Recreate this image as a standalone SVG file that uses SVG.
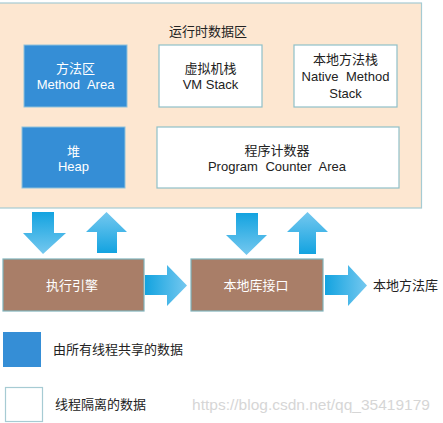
<svg xmlns="http://www.w3.org/2000/svg" width="443" height="423" viewBox="0 0 443 423">
<defs>
<style>
text{font-family:"Liberation Sans","Noto Sans CJK SC",sans-serif;text-anchor:middle;dominant-baseline:central;font-size:13px;word-spacing:4px}
.blue{fill:#358ed6;stroke:#8fc2dc;stroke-width:1}
.white{fill:#ffffff;stroke:#8fc0c8;stroke-width:1.2}
.brown{fill:#a97e68;stroke:#7fb3bb;stroke-width:1.2}
.tw{fill:#ffffff}
.tb{fill:#222222}
</style>
<linearGradient id="gDown" x1="0" y1="0" x2="0" y2="1"><stop offset="0" stop-color="#13a3e0"/><stop offset="1" stop-color="#75c8ef"/></linearGradient>
<linearGradient id="gUp" x1="0" y1="1" x2="0" y2="0"><stop offset="0" stop-color="#13a3e0"/><stop offset="1" stop-color="#75c8ef"/></linearGradient>
<linearGradient id="gRight" x1="0" y1="0" x2="1" y2="0"><stop offset="0" stop-color="#13a3e0"/><stop offset="1" stop-color="#75c8ef"/></linearGradient>
</defs>
<rect width="443" height="423" fill="#ffffff"/>
<g id="runtime-area">
<rect x="-2" y="3" width="423.5" height="205" fill="#fde7d1" stroke="#a6cbd3" stroke-width="1.2"/>
<text class="tb" x="208" y="31">运行时数据区</text>
</g>
<g id="method-area">
<rect class="blue" x="24" y="45" width="103" height="62"/>
<text class="tw" x="75.5" y="68">方法区</text>
<text class="tw" x="75.5" y="84">Method Area</text>
</g>
<g id="vm-stack">
<rect class="white" x="159" y="45" width="103" height="62"/>
<text class="tb" x="210.5" y="68">虚拟机栈</text>
<text class="tb" x="210.5" y="84" style="word-spacing:0">VM Stack</text>
</g>
<g id="native-stack">
<rect class="white" x="294" y="45" width="103" height="62"/>
<text class="tb" x="345.5" y="59">本地方法栈</text>
<text class="tb" x="345.5" y="76">Native Method</text>
<text class="tb" x="345.5" y="93">Stack</text>
</g>
<g id="heap">
<rect class="blue" x="22" y="127" width="103" height="61"/>
<text class="tw" x="73.5" y="151">堆</text>
<text class="tw" x="73.5" y="166">Heap</text>
</g>
<g id="pc">
<rect class="white" x="157" y="127" width="242" height="61"/>
<text class="tb" x="277" y="150">程序计数器</text>
<text class="tb" x="277" y="166">Program Counter Area</text>
</g>
<g id="connectors">
<polygon fill="url(#gDown)" points="32,212 54,212 54,233 66,233 43,254 23,233 32,233"/>
<polygon fill="url(#gUp)" points="97,253 117,253 117,232 127,232 106.5,212 86,232 97,232"/>
<polygon fill="url(#gDown)" points="236,213 258,213 258,235 267,235 246.5,255 226,235 236,235"/>
<polygon fill="url(#gUp)" points="299,254 316,254 316,232 328,232 307.5,212 287,232 299,232"/>
<polygon fill="url(#gRight)" points="145,275 167,275 167,265 187,285.5 167,306 167,295 145,295"/>
<polygon fill="url(#gRight)" points="325,275 348,275 348,265 367,285.5 348,306 348,295 325,295"/>
</g>
<g id="exec-engine">
<rect class="brown" x="3" y="259" width="141" height="52"/>
<text class="tw" x="72" y="285">执行引擎</text>
</g>
<g id="native-interface">
<rect class="brown" x="191" y="259" width="132" height="52"/>
<text class="tw" x="256" y="285">本地库接口</text>
</g>
<g id="native-lib">
<text class="tb" x="405.5" y="285">本地方法库</text>
</g>
<g id="legend">
<rect x="3" y="332" width="38" height="35" fill="#358ed6"/>
<text class="tb" x="53" y="349" style="text-anchor:start">由所有线程共享的数据</text>
<rect x="5.5" y="387.5" width="37" height="34" fill="#ffffff" stroke="#a6cbd3" stroke-width="1.2"/>
<text class="tb" x="55" y="404" style="text-anchor:start">线程隔离的数据</text>
</g>
<text x="311" y="404" style="font-size:15.5px;fill:#d6d6d6;word-spacing:0">https://blog.csdn.net/qq_35419179</text>
</svg>
